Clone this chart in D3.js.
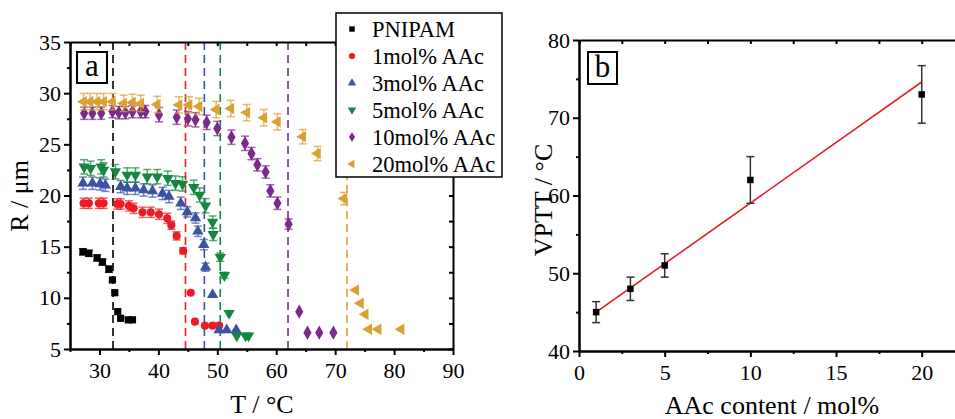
<!DOCTYPE html>
<html>
<head>
<meta charset="utf-8">
<script src="https://cdn.jsdelivr.net/npm/d3@7"></script>
<style>
body { margin: 0; background: #fff; }
svg text { font-family: "Liberation Serif", "Times New Roman", serif; fill: #000; }
</style>
</head>
<body>
<div id="chart"></div>
<script>
var serifFont = "'Liberation Serif', 'Times New Roman', serif";

// ---- panel a data: R (um) vs T (C) ----
var pnipamT = [27.2, 28.2, 29.6, 30.5, 31.6, 32.2, 32.6, 33.1, 33.6, 34.9, 35.6];
var pnipamR = [14.5, 14.35, 13.9, 13.5, 12.8, 11.75, 10.5, 8.65, 8.0, 7.85, 7.85];
var pnipamErr = [0.3, 0.3, 0.3, 0.3, 0.3, 0.25, 0.2, 0.2, 0.15, 0.1, 0.1];

var aac1T = [27.3, 28.2, 29.9, 30.7, 33.0, 33.6, 35.0, 35.8, 37.3, 38.7, 40.1, 41.5, 42.2, 43.1, 44.2, 45.5, 46.2, 47.9, 49.2, 50.3];
var aac1R = [19.24, 19.24, 19.24, 19.24, 19.17, 19.17, 18.98, 18.75, 18.36, 18.36, 18.17, 17.77, 17.1, 16.05, 14.6, 10.5, 7.67, 7.28, 7.28, 7.28];
var aac1Err = [0.5, 0.5, 0.5, 0.5, 0.5, 0.5, 0.5, 0.5, 0.5, 0.5, 0.5, 0.5, 0.4, 0.4, 0.3, 0.2, 0.1, 0.1, 0.1, 0.1];

var aac3T = [27.2, 28.8, 30.1, 31.0, 33.6, 34.7, 36.1, 37.5, 39.0, 40.7, 41.8, 43.8, 44.9, 46.3, 46.7, 47.7, 48.0, 49.2, 50.3, 51.6, 53.2];
var aac3R = [21.2, 21.2, 21.13, 21.0, 20.87, 20.7, 20.7, 20.54, 20.44, 20.2, 19.9, 19.24, 18.4, 17.8, 16.5, 15.2, 13.0, 10.3, 6.86, 6.86, 6.86];
var aac3Err = [0.6, 0.6, 0.6, 0.6, 0.6, 0.6, 0.6, 0.6, 0.6, 0.6, 0.6, 0.6, 0.5, 0.5, 0.5, 0.5, 0.4, 0.2, 0.1, 0.1, 0.1];

var aac5T = [27.4, 28.5, 30.3, 30.7, 32.7, 34.7, 36.1, 38.1, 39.8, 41.6, 42.9, 44.1, 46.0, 47.0, 48.0, 49.2, 49.3, 50.5, 51.2, 52.0, 53.3, 54.8, 55.3];
var aac5R = [22.8, 22.66, 22.8, 22.5, 22.33, 22.0, 22.0, 21.84, 21.84, 21.69, 21.2, 21.13, 20.8, 20.05, 19.0, 17.4, 16.2, 13.97, 12.2, 8.5, 6.3, 6.3, 6.3];
var aac5Err = [0.7, 0.7, 0.7, 0.7, 0.7, 0.7, 0.7, 0.7, 0.7, 0.7, 0.7, 0.7, 0.7, 0.7, 0.7, 0.6, 0.6, 0.4, 0.3, 0.2, 0.1, 0.1, 0.1];

var aac10T = [27.4, 28.8, 30.3, 32.2, 33.3, 34.4, 35.6, 37.0, 37.8, 40.1, 43.1, 45.0, 46.3, 48.2, 50.0, 52.4, 54.7, 55.8, 56.8, 58.2, 59.0, 60.2, 62.1, 63.9, 65.3, 67.3, 69.7];
var aac10R = [28.04, 28.04, 28.04, 28.2, 28.1, 28.1, 28.2, 28.2, 28.2, 27.9, 27.65, 27.5, 27.4, 27.15, 26.55, 25.7, 25.1, 24.1, 23.0, 22.3, 20.45, 19.24, 17.2, 8.65, 6.6, 6.6, 6.6];
var aac10Err = [0.6, 0.6, 0.6, 0.6, 0.6, 0.6, 0.6, 0.6, 0.6, 0.7, 0.7, 0.7, 0.7, 0.7, 0.7, 0.7, 0.7, 0.6, 0.6, 0.6, 0.6, 0.6, 0.5, 0.2, 0.1, 0.1, 0.1];

var aac20T = [27.3, 28.4, 29.6, 30.7, 32.2, 34.1, 35.6, 37.0, 39.8, 43.5, 45.2, 46.9, 49.8, 52.3, 55.0, 57.9, 60.2, 64.5, 67.0, 71.5, 73.5, 74.3, 75.1, 75.7, 77.3, 81.2];
var aac20R = [29.17, 29.17, 29.17, 29.17, 29.17, 29.0, 29.1, 29.0, 28.9, 28.85, 28.85, 28.7, 28.4, 28.5, 28.1, 27.6, 27.2, 25.75, 24.1, 19.7, 10.77, 9.47, 8.4, 6.93, 6.93, 6.93];
var aac20Err = [0.8, 0.8, 0.8, 0.8, 0.8, 0.8, 0.8, 0.8, 0.8, 0.8, 0.8, 0.8, 0.8, 0.8, 0.8, 0.8, 0.8, 0.7, 0.7, 0.6, 0.2, 0.2, 0.2, 0.1, 0.1, 0.1];

var legendLabels = ["PNIPAM", "1mol% AAc", "3mol% AAc", "5mol% AAc", "10mol% AAc", "20mol% AAc"];
var seriesColors = ["#000000", "#ec1c24", "#3a53a4", "#13873f", "#7b2a8c", "#d9a132"];
var vpttLines = [32.3, 44.6, 47.8, 50.5, 62.0, 72.0];

var xTicksA = [30, 40, 50, 60, 70, 80, 90];
var xMinorA = [25, 35, 45, 55, 65, 75, 85];
var yTicksA = [5, 10, 15, 20, 25, 30, 35];
var yMinorA = [7.5, 12.5, 17.5, 22.5, 27.5, 32.5];

// ---- panel b data: VPTT vs AAc content ----
var aacContent = [1, 3, 5, 10, 20];
var vptt = [45, 48, 51, 62, 73];
var vpttErr = [1.35, 1.5, 1.5, 3.0, 3.7];
var fitX = [1, 20];
var fitY = [45.0, 74.6];

var xTicksB = [0, 5, 10, 15, 20];
var xMinorB = [2.5, 7.5, 12.5, 17.5];
var yTicksB = [40, 50, 60, 70, 80];
var yMinorB = [45, 55, 65, 75];

var svg = d3.select("#chart")
    .append("svg")
    .attr("width", 955)
    .attr("height", 419)
    .attr("font-family", serifFont);

function drawAxis(axis, transform) {
    var g = svg.append("g")
        .attr("transform", transform)
        .call(axis)
        .attr("font-family", serifFont)
        .attr("font-size", 22);
    g.selectAll("path, line").attr("stroke", "#000").attr("stroke-width", 2);
    g.selectAll("text")
        .style("font-family", serifFont)
        .style("font-size", "22px");
    return g;
}

// ================= panel a =================
var xA = d3.scaleLinear().domain([25, 90]).range([70, 453]);
var yA = d3.scaleLinear().domain([5, 35]).range([349, 42]);

// dashed transition lines
svg.append("g").selectAll("line")
    .data(vpttLines)
    .enter()
    .append("line")
    .attr("x1", d => xA(d))
    .attr("x2", d => xA(d))
    .attr("y1", yA(35))
    .attr("y2", yA(5))
    .attr("stroke", (d, i) => seriesColors[i])
    .attr("stroke-width", 1.6)
    .attr("stroke-dasharray", "8,5");

// axes
drawAxis(d3.axisBottom(xA).tickValues(xTicksA).tickSize(6).tickSizeOuter(0).tickPadding(7).tickFormat(d3.format("d")), "translate(0,349)");
drawAxis(d3.axisBottom(xA).tickValues(xMinorA).tickSize(3).tickSizeOuter(0).tickFormat(""), "translate(0,349)");
drawAxis(d3.axisTop(xA).tickValues(xTicksA.concat(xMinorA)).tickSize(-4).tickSizeOuter(0).tickFormat(""), "translate(0,42)");
drawAxis(d3.axisLeft(yA).tickValues(yTicksA).tickSize(6).tickSizeOuter(0).tickPadding(3).tickFormat(d3.format("d")), "translate(70,0)");
drawAxis(d3.axisLeft(yA).tickValues(yMinorA).tickSize(3).tickSizeOuter(0).tickFormat(""), "translate(70,0)");
drawAxis(d3.axisRight(yA).tickValues(yTicksA.concat(yMinorA)).tickSize(-4).tickSizeOuter(0).tickFormat(""), "translate(453,0)");

var seriesA = [
    { t: pnipamT, r: pnipamR, err: pnipamErr, shape: d3.symbolSquare, rot: 0, size: 52 },
    { t: aac1T, r: aac1R, err: aac1Err, shape: d3.symbolCircle, rot: 0, size: 52 },
    { t: aac3T, r: aac3R, err: aac3Err, shape: d3.symbolTriangle, rot: 0, size: 56 },
    { t: aac5T, r: aac5R, err: aac5Err, shape: d3.symbolTriangle, rot: 180, size: 56 },
    { t: aac10T, r: aac10R, err: aac10Err, shape: d3.symbolDiamond, rot: 0, size: 58 },
    { t: aac20T, r: aac20R, err: aac20Err, shape: d3.symbolTriangle, rot: -90, size: 56 }
];

seriesA.forEach(function (s, i) {
    var pts = s.t.map((t, j) => ({ t: t, r: s.r[j], e: s.err[j] }));
    var g = svg.append("g");
    var color = seriesColors[i];

    // error bars
    var eb = g.selectAll(".eb")
        .data(pts.filter(d => d.e >= 0.3))
        .enter()
        .append("g")
        .attr("stroke", color)
        .attr("stroke-opacity", 0.7)
        .attr("stroke-width", 1.5);
    eb.append("line")
        .attr("x1", d => xA(d.t)).attr("x2", d => xA(d.t))
        .attr("y1", d => yA(d.r - d.e)).attr("y2", d => yA(d.r + d.e));
    eb.append("line")
        .attr("x1", d => xA(d.t) - 4).attr("x2", d => xA(d.t) + 4)
        .attr("y1", d => yA(d.r - d.e)).attr("y2", d => yA(d.r - d.e));
    eb.append("line")
        .attr("x1", d => xA(d.t) - 4).attr("x2", d => xA(d.t) + 4)
        .attr("y1", d => yA(d.r + d.e)).attr("y2", d => yA(d.r + d.e));

    g.selectAll("path.pt")
        .data(pts)
        .enter()
        .append("path")
        .attr("class", "pt")
        .attr("d", d3.symbol().type(s.shape).size(s.size))
        .attr("transform", d => `translate(${xA(d.t)},${yA(d.r)}) rotate(${s.rot})`)
        .attr("fill", color);
});

// label box "a"
svg.append("rect")
    .attr("x", 77).attr("y", 52).attr("width", 30).attr("height", 31)
    .attr("fill", "#fff").attr("stroke", "#000").attr("stroke-width", 2);
svg.append("text")
    .attr("x", 92).attr("y", 76)
    .attr("text-anchor", "middle")
    .style("font-size", "31px")
    .text("a");

// legend
var legend = svg.append("g");
legend.append("rect")
    .attr("x", 336).attr("y", 13).attr("width", 166).attr("height", 164)
    .attr("fill", "#fff").attr("stroke", "#000").attr("stroke-width", 1.5);
var legendItems = legend.selectAll(".item")
    .data(legendLabels)
    .enter()
    .append("g")
    .attr("transform", (d, i) => `translate(352, ${29 + i * 27})`);
legendItems.append("path")
    .attr("d", (d, i) => d3.symbol().type(seriesA[i].shape).size(30)())
    .attr("transform", (d, i) => `rotate(${seriesA[i].rot})`)
    .attr("fill", (d, i) => seriesColors[i]);
legendItems.append("text")
    .attr("x", 20)
    .attr("dy", "0.35em")
    .style("font-size", "22.5px")
    .text(d => d);

// axis titles
svg.append("text")
    .attr("x", 262).attr("y", 413)
    .attr("text-anchor", "middle")
    .style("font-size", "26px")
    .text("T / °C");
svg.append("text")
    .attr("transform", "translate(28,196) rotate(-90)")
    .attr("text-anchor", "middle")
    .style("font-size", "26px")
    .text("R / μm");

// ================= panel b =================
var xB = d3.scaleLinear().domain([0, 22]).range([579, 956]);
var yB = d3.scaleLinear().domain([40, 80]).range([351, 40]);

drawAxis(d3.axisBottom(xB).tickValues(xTicksB).tickSize(6).tickSizeOuter(0).tickPadding(7).tickFormat(d3.format("d")), "translate(0,351)");
drawAxis(d3.axisBottom(xB).tickValues(xMinorB).tickSize(3).tickSizeOuter(0).tickFormat(""), "translate(0,351)");
drawAxis(d3.axisTop(xB).tickValues(xTicksB.concat(xMinorB)).tickSize(-4).tickSizeOuter(0).tickFormat(""), "translate(0,40)");
drawAxis(d3.axisLeft(yB).tickValues(yTicksB).tickSize(6).tickSizeOuter(0).tickPadding(3).tickFormat(d3.format("d")), "translate(579,0)");
drawAxis(d3.axisLeft(yB).tickValues(yMinorB).tickSize(3).tickSizeOuter(0).tickFormat(""), "translate(579,0)");

var ptsB = aacContent.map((c, j) => ({ c: c, v: vptt[j], e: vpttErr[j] }));

// fit line
svg.append("path")
    .datum(fitX.map((x, j) => [x, fitY[j]]))
    .attr("d", d3.line().x(d => xB(d[0])).y(d => yB(d[1])))
    .attr("stroke", "#ec1c24")
    .attr("stroke-width", 1.6)
    .attr("fill", "none");

var ebB = svg.append("g").selectAll("g")
    .data(ptsB)
    .enter()
    .append("g")
    .attr("stroke", "#333")
    .attr("stroke-width", 1.5);
ebB.append("line")
    .attr("x1", d => xB(d.c)).attr("x2", d => xB(d.c))
    .attr("y1", d => yB(d.v - d.e)).attr("y2", d => yB(d.v + d.e));
ebB.append("line")
    .attr("x1", d => xB(d.c) - 4).attr("x2", d => xB(d.c) + 4)
    .attr("y1", d => yB(d.v - d.e)).attr("y2", d => yB(d.v - d.e));
ebB.append("line")
    .attr("x1", d => xB(d.c) - 4).attr("x2", d => xB(d.c) + 4)
    .attr("y1", d => yB(d.v + d.e)).attr("y2", d => yB(d.v + d.e));

svg.append("g").selectAll("path")
    .data(ptsB)
    .enter()
    .append("path")
    .attr("d", d3.symbol().type(d3.symbolSquare).size(42))
    .attr("transform", d => `translate(${xB(d.c)},${yB(d.v)})`)
    .attr("fill", "#000");

// label box "b"
svg.append("rect")
    .attr("x", 588).attr("y", 52).attr("width", 29).attr("height", 32)
    .attr("fill", "#fff").attr("stroke", "#000").attr("stroke-width", 2);
svg.append("text")
    .attr("x", 602.5).attr("y", 77)
    .attr("text-anchor", "middle")
    .style("font-size", "31px")
    .text("b");

svg.append("text")
    .attr("x", 772).attr("y", 414)
    .attr("text-anchor", "middle")
    .style("font-size", "26px")
    .text("AAc content / mol%");
svg.append("text")
    .attr("transform", "translate(552,200) rotate(-90)")
    .attr("text-anchor", "middle")
    .style("font-size", "26px")
    .text("VPTT / °C");
</script>
</body>
</html>
